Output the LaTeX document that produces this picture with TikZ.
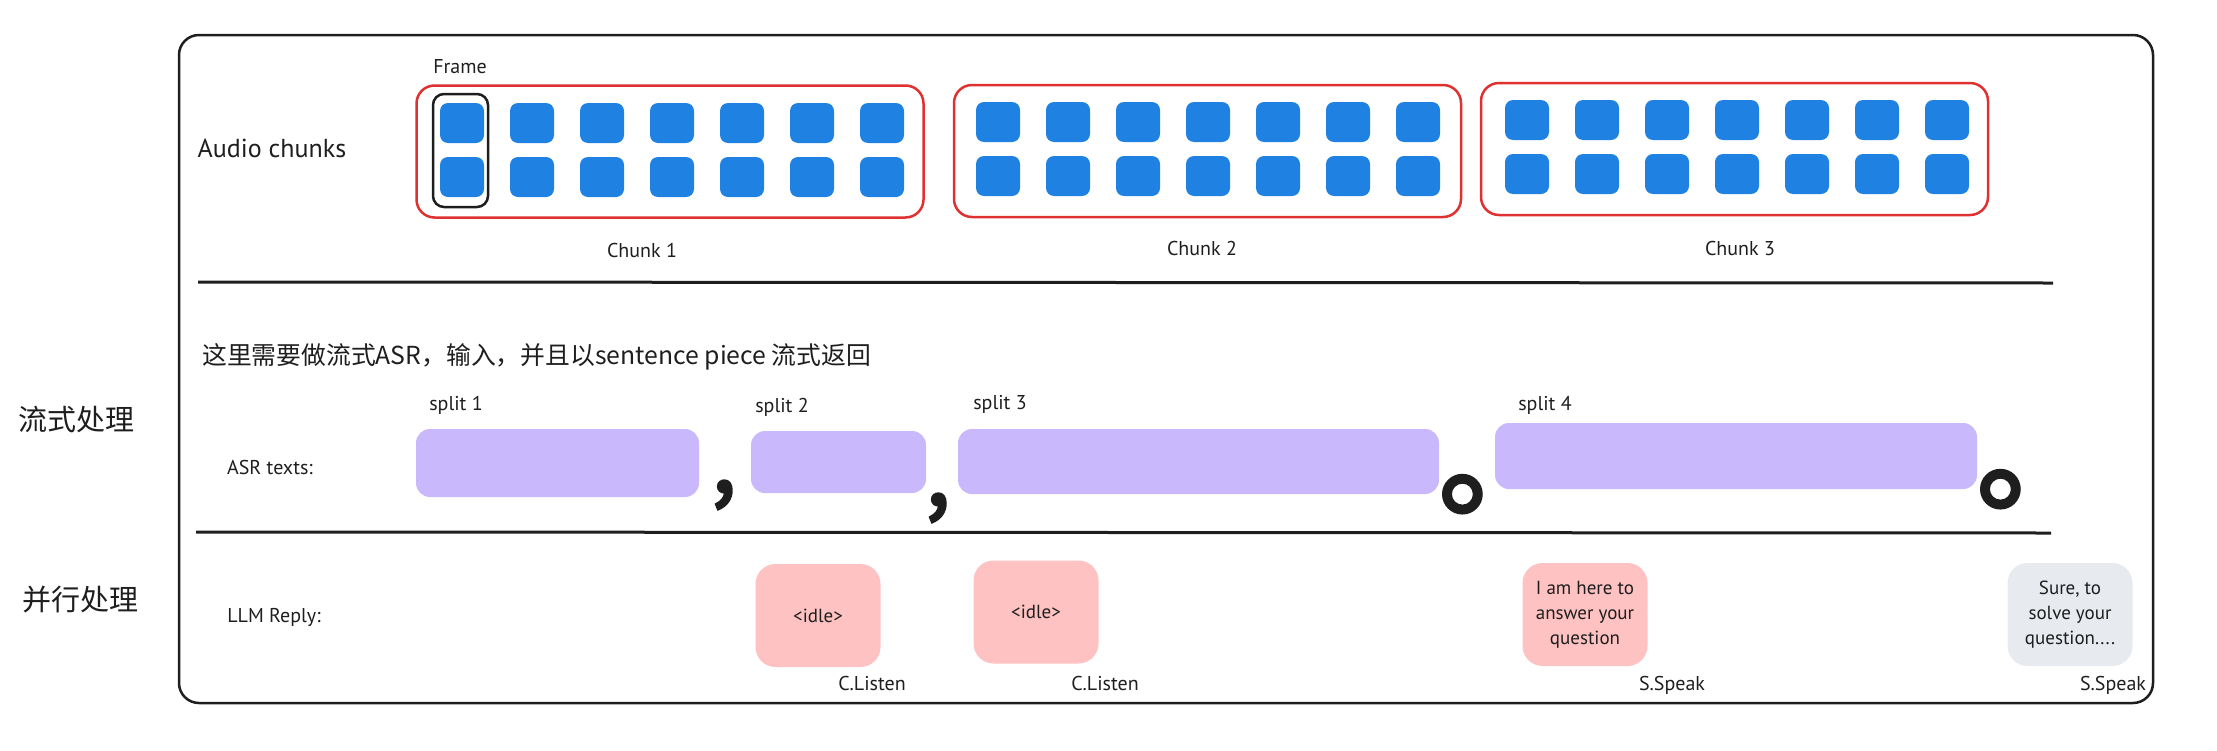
\documentclass[tikz,border=0pt]{standalone}
\usepackage{fontspec}
\setmainfont{PT Sans}
\newfontfamily\cjk{Noto Sans CJK SC}
\newfontfamily\cjkheavy[FakeBold=3]{Noto Sans CJK SC}
\newfontfamily\stopheavy[FakeBold=3]{Noto Sans CJK TC}
\definecolor{frameblue}{HTML}{1F81E2}
\definecolor{chunkred}{HTML}{E03131}
\definecolor{asrpurple}{HTML}{C9B8FC}
\definecolor{replypink}{HTML}{FFC2C2}
\definecolor{replygrey}{HTML}{E7EAEF}
\definecolor{ink}{HTML}{1E1E1E}
\begin{document}
\begin{tikzpicture}[x=1pt, y=-1pt, ink,
    lbl/.style={font=\fontsize{20}{24}\selectfont, inner sep=0pt},
    framecell/.style={fill=frameblue, rounded corners=8pt, minimum width=44pt, minimum height=40pt, inner sep=0pt},
    chunkbox/.style={draw=chunkred, line width=2.5pt, rounded corners=18pt, minimum width=507pt, minimum height=132pt, inner sep=0pt},
    asrbox/.style={fill=asrpurple, rounded corners=14pt, inner sep=0pt},
    replybox/.style={fill=replypink, rounded corners=20pt, minimum width=125pt, minimum height=103pt, inner sep=0pt, align=center, font=\fontsize{19}{25}\selectfont},
    punct/.style={font=\cjkheavy\fontsize{#1}{#1}\selectfont, inner sep=0pt},
    fullstop/.style={font=\stopheavy\fontsize{#1}{#1}\selectfont, inner sep=0pt},
    sepline/.style={line width=3pt}]
    \useasboundingbox (0,0) rectangle (2217,750);

    % Outer frame
    \draw[line width=2.5pt, rounded corners=20pt] (179,35) rectangle (2153,703);

    % Audio chunks
    \node[lbl, font=\fontsize{26}{30}\selectfont] (audio) at (272,148) {Audio chunks};
    \node[chunkbox] (chunk1) at (670,151.5) {};
    \node[chunkbox] (chunk2) at (1207.5,151) {};
    \node[chunkbox] (chunk3) at (1734.5,149) {};
    \foreach \c/\x/\y in {1/462/123, 2/998/122, 3/1527/120} {
        \foreach \i in {0,...,6} {
            \node[framecell] (cell-\c-1-\i) at (\x+70*\i,\y) {};
            \node[framecell] (cell-\c-2-\i) at (\x+70*\i,\y+54) {};
        }
    }
    \node[lbl] (chunk1-lbl) at (642,250) {Chunk 1};
    \node[lbl] (chunk2-lbl) at (1202,248) {Chunk 2};
    \node[lbl] (chunk3-lbl) at (1740,248) {Chunk 3};

    % One frame
    \node[draw, line width=2.5pt, rounded corners=11pt, minimum width=55pt, minimum height=113pt, inner sep=0pt] (frame) at (460.5,150.5) {};
    \node[lbl] (frame-lbl) at (460,67) {Frame};

    % Separators
    \coordinate (sep1a) at (198,282);
    \coordinate (sep1b) at (2053,283);
    \coordinate (sep2a) at (196,532);
    \coordinate (sep2b) at (2051,533);
    \draw[sepline] (sep1a) -- (sep1b);
    \draw[sepline] (sep2a) -- (sep2b);

    % Streaming ASR
    \node[anchor=west, inner sep=0pt, font=\cjk\fontsize{24.8}{28}\selectfont] (note) at (202,357) {这里需要做流式ASR，输入，并且以sentence piece 流式返回};
    \node[inner sep=0pt, font=\cjk\fontsize{29}{34}\selectfont] (stream) at (76,420) {流式处理};
    \node[lbl] (asr-lbl) at (270,467) {ASR texts:};
    \node[asrbox, minimum width=283pt, minimum height=68pt] (split1) at (557.5,463) {};
    \node[asrbox, minimum width=175pt, minimum height=62pt] (split2) at (838.5,462) {};
    \node[asrbox, minimum width=481pt, minimum height=65pt] (split3) at (1198.5,461.5) {};
    \node[asrbox, minimum width=482pt, minimum height=66pt] (split4) at (1736,456) {};
    \node[lbl] (split1-lbl) at (456,405) {split 1};
    \node[lbl] (split2-lbl) at (782,407) {split 2};
    \node[lbl] (split3-lbl) at (1000,404) {split 3};
    \node[lbl] (split4-lbl) at (1545,405) {split 4};
    \node[punct=90, anchor=base] (comma1) at (724,492) {,};
    \node[punct=90, anchor=base] (comma2) at (938,505) {,};
    \node[fullstop=122] (stop1) at (1462,508) {。};
    \node[fullstop=122] (stop2) at (2000,503) {。};

    % Parallel LLM reply
    \node[inner sep=0pt, font=\cjk\fontsize{29}{34}\selectfont] (parallel) at (80,600) {并行处理};
    \node[lbl] (llm-lbl) at (274,617) {LLM Reply:};
    \node[replybox] (reply1) at (818,615.5) {<idle>};
    \node[replybox] (reply2) at (1036,612) {<idle>};
    \node[replybox] (reply3) at (1585,614.5) {I am here to\\answer your\\question};
    \node[replybox, fill=replygrey] (reply4) at (2070,614.5) {Sure, to\\solve your\\question....};
    \node[lbl] (reply1-lbl) at (872,683) {C.Listen};
    \node[lbl] (reply2-lbl) at (1105,683) {C.Listen};
    \node[lbl] (reply3-lbl) at (1672,685) {S.Speak};
    \node[lbl] (reply4-lbl) at (2113,685) {S.Speak};
\end{tikzpicture}
\end{document}
